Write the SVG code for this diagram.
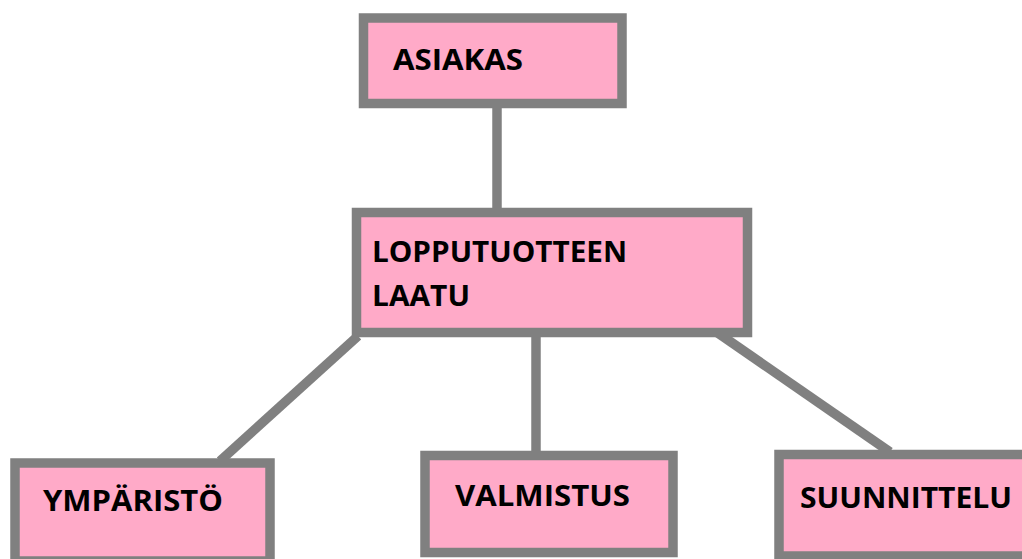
<svg xmlns="http://www.w3.org/2000/svg" width="1022" height="559" viewBox="0 0 1022 559">
<style>
.box{fill:#ffaac8;stroke:#808080;stroke-width:9.5}
.lbl{font-family:"Open Sans","Liberation Sans",sans-serif;font-weight:bold;font-size:29px;fill:#000}
.con{stroke:#808080;stroke-width:9.5;fill:none}
</style>
<rect width="1022" height="559" fill="#fff"/>
<g id="connectors">
<line class="con" x1="497" y1="108" x2="497" y2="210"/>
<line class="con" x1="358" y1="336" x2="220" y2="461"/>
<line class="con" x1="536" y1="336" x2="536" y2="453"/>
<line class="con" x1="715" y1="331" x2="890" y2="452"/>
</g>
<g id="asiakas">
<rect class="box" x="363.5" y="18" width="258.5" height="85.5"/>
<text class="lbl" x="393" y="70" textLength="130" lengthAdjust="spacingAndGlyphs">ASIAKAS</text>
</g>
<g id="lopputuotteen-laatu">
<rect class="box" x="356.5" y="212.5" width="391" height="120"/>
<text class="lbl" x="372" y="262" textLength="255" lengthAdjust="spacingAndGlyphs">LOPPUTUOTTEEN</text>
<text class="lbl" x="372" y="306" textLength="98" lengthAdjust="spacingAndGlyphs">LAATU</text>
</g>
<g id="ymparisto">
<rect class="box" x="15" y="463" width="255" height="98"/>
<text class="lbl" x="43" y="511" textLength="180" lengthAdjust="spacingAndGlyphs">YMPÄRISTÖ</text>
</g>
<g id="valmistus">
<rect class="box" x="425" y="455.5" width="248" height="97"/>
<text class="lbl" x="455" y="506" textLength="175" lengthAdjust="spacingAndGlyphs">VALMISTUS</text>
</g>
<g id="suunnittelu">
<rect class="box" x="779" y="454.5" width="260" height="101.5"/>
<text class="lbl" x="800" y="508" textLength="212" lengthAdjust="spacingAndGlyphs">SUUNNITTELU</text>
</g>
</svg>
